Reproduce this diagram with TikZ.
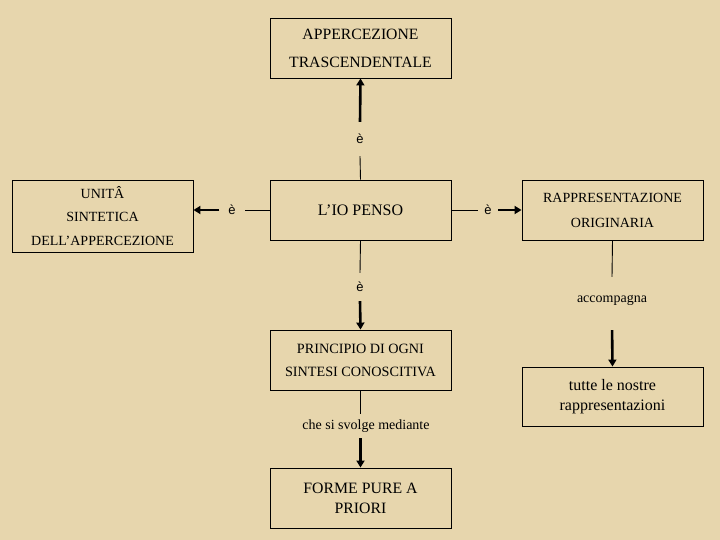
\documentclass[tikz,border=0pt]{standalone}
\usepackage{fontspec}
\setmainfont{Liberation Serif}
\newfontfamily\lblsans{Liberation Sans}
\usetikzlibrary{arrows.meta}
\definecolor{parch}{RGB}{231,214,173}
\begin{document}
\begin{tikzpicture}[x=1pt,y=-1pt,
  box/.style={draw,line width=0.9pt,minimum width=181pt,minimum height=60pt,inner sep=0pt,align=center},
  lbl/.style={inner sep=0pt,font=\fontsize{14}{16}\selectfont},
  elbl/.style={inner sep=0pt,font=\lblsans\fontsize{13}{15}\selectfont},
  thinline/.style={line width=0.9pt},
  thickarrow/.style={line width=2.6pt,-{Triangle[length=7pt,width=8pt]}}]
\fill[parch] (0,0) rectangle (720,540);
\useasboundingbox (0,0) rectangle (720,540);

\node[box,font=\fontsize{15.7}{28}\selectfont] (app) at (360.5,48) {APPERCEZIONE\\TRASCENDENTALE};
\node[box,minimum height=72pt,font=\fontsize{14}{23.5}\selectfont] (unita) at (102.5,216) {UNITÂ\\SINTETICA\\DELL’APPERCEZIONE};
\node[box,font=\fontsize{16}{20}\selectfont] (io) at (360.5,210) {L’IO PENSO};
\node[box,font=\fontsize{14}{25}\selectfont] (rap) at (612.5,210) {RAPPRESENTAZIONE\\ORIGINARIA};
\node[box,font=\fontsize{14.2}{23}\selectfont] (pr) at (360.5,360) {PRINCIPIO DI OGNI\\SINTESI CONOSCITIVA};
\node[box,font=\fontsize{15.8}{20}\selectfont] (forme) at (360.5,498) {FORME PURE A\\PRIORI};
\node[box,minimum height=59pt,font=\fontsize{16}{20}\selectfont] (tutte) at (612.5,396.5) {tutte le nostre\\rappresentazioni};

\node[elbl,minimum height=34pt] (e1) at (360,139) {è};
\node[elbl,minimum width=25pt] (eL) at (232,210) {è};
\node[elbl,minimum width=20pt] (eR) at (488,210) {è};
\node[elbl,minimum height=28pt] (eD) at (360,287) {è};
\node[lbl,minimum height=24pt] (che) at (366,426) {che si svolge mediante};
\node[lbl,minimum height=46pt] (acc) at (612,300) {accompagna};

\draw[thinline] (io.north) -- (e1.south);
\draw[thickarrow] (e1.north) -- (app.south);
\draw[thinline] (io.west) -- (eL.east);
\draw[thickarrow] (eL.west) -- (eL.west -| unita.east);
\draw[thinline] (io.east) -- (eR.west);
\draw[thickarrow] (eR.east) -- (rap.west);
\draw[thinline] (io.south) -- (eD.north);
\draw[thickarrow] (eD.south) -- (pr.north);
\draw[thinline] (pr.south) -- (pr.south |- che.north);
\draw[thickarrow] (pr.south |- che.south) -- (forme.north);
\draw[thinline] (rap.south) -- (acc.north);
\draw[thickarrow,shorten <=7pt] (acc.south) -- (tutte.north);
\end{tikzpicture}
\end{document}
